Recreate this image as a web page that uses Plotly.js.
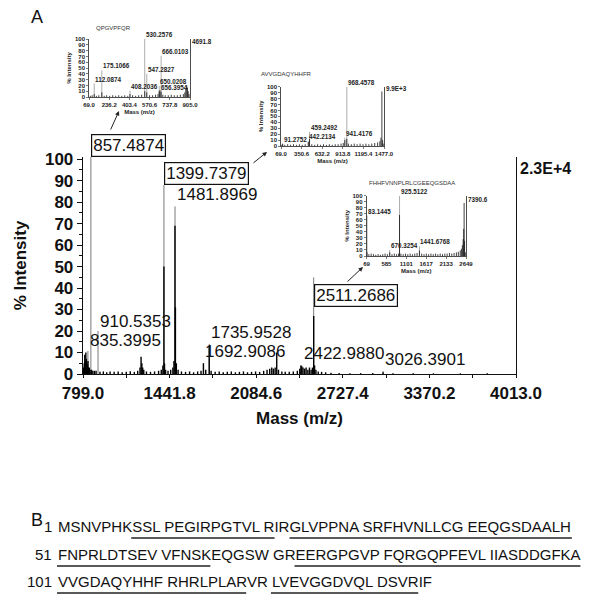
<!DOCTYPE html>
<html><head><meta charset="utf-8">
<script src="https://cdn.plot.ly/plotly-3.0.1.min.js"></script>
<style>html,body{margin:0;padding:0;background:#fff}#chart{width:600px;height:610px}</style>
</head><body><div id="chart"></div>
<script>
// ===== Panel A : main MALDI spectrum =====
const mainTickVals = [799.0, 1441.8, 2084.6, 2727.4, 3370.2, 4013.0];
const mainTickText = ["799.0", "1441.8", "2084.6", "2727.4", "3370.2", "4013.0"];
const mainMass = [
  803, 808, 812, 816, 820, 824, 828, 832, 836, 840,
  846, 852, 862, 872, 884, 896, 925, 950, 975, 1000,
  1030, 1060, 1090, 1120, 1150, 1180, 1205, 1222, 1230, 1236,
  1242, 1250, 1270, 1300, 1330, 1360, 1380, 1392, 1399.7, 1404,
  1412, 1430, 1450, 1466, 1474, 1481.9, 1485, 1492, 1505, 1530,
  1560, 1590, 1620, 1650, 1675, 1692.9, 1710, 1735.9, 1750, 1780,
  1810, 1840, 1870, 1900, 1930, 1960, 1990, 2020, 2050, 2080,
  2110, 2140, 2165, 2185, 2200, 2212, 2225, 2237, 2250, 2275,
  2300, 2330, 2360, 2390, 2408, 2416, 2423, 2432, 2444, 2455,
  2468, 2480, 2492, 2502, 2511.3, 2518, 2528, 2545, 2570, 2600,
  2640, 2700, 2780, 2860, 2950, 3026.4, 3100, 3250, 3400, 3600,
  3800];
const mainInt = [
  3, 5, 9, 6, 10, 7, 5, 4, 6, 3,
  3, 2, 2, 1.5, 1.5, 1.5, 1, 1.2, 0.8, 1.2,
  1, 1.2, 0.8, 1, 1.3, 1, 1.5, 3, 8, 5,
  3, 2, 1.2, 1, 1.2, 1.5, 2, 4, 50, 5,
  2, 1.5, 2, 3, 6, 69, 31, 5, 2, 1.2,
  1, 1.2, 0.8, 1.2, 1.5, 5, 2, 13, 1.5, 1,
  1.2, 0.8, 1, 1.2, 0.8, 1, 1.2, 0.8, 1, 1.2,
  1, 1.5, 2, 2.5, 3, 2.5, 3, 10, 2, 1.2,
  1, 1, 1.2, 1.5, 2.5, 4, 3.5, 3, 2.5, 3,
  2, 3, 2, 3, 27, 4, 2, 1.2, 1, 0.8,
  0.6, 0.5, 0.4, 0.4, 0.5, 0.8, 0.4, 0.3, 0.3, 0.3,
  0.3];
const mainPeakMass = [835.3995, 857.4874, 910.5353, 1399.7379, 1481.8969, 1692.9086, 1735.9528, 2422.9880, 2511.2686, 3026.3901];
const mainPeakInt  = [10.7, 101, 20, 88, 78, 5, 14, 4, 45, 1.4];
const mainLabelY   = [10.2, 101, 19, 88, 78, 5, 14, 4, 31, 1.4];
const mainBoxed    = [false, true, false, true, false, false, false, false, true, false];
const mainMaxLabel = "2.3E+4";

// ===== Inset 1 : QPGVPFQR =====
const ins1Title = "QPGVPFQR";
const ins1TickVals = [69.0, 236.2, 403.4, 570.6, 737.8, 905.0];
const ins1Mass = [80, 95, 112.1, 130, 150, 175.1, 195, 215, 240, 265, 290, 315, 340, 365, 390,
  408.2, 430, 455, 480, 505, 530.3, 547.3, 570, 595, 620, 640, 650, 656.4, 666, 680,
  700, 725, 750, 775, 800, 825, 850, 862, 870, 878, 884, 890, 897];
const ins1Int = [2, 3, 5, 2, 3, 8, 2, 3, 2, 3, 2, 3, 2, 3, 2,
  5, 3, 2, 3, 4, 10, 8, 3, 3, 4, 5, 10, 12, 9, 4,
  3, 3, 4, 3, 3, 4, 5, 8, 14, 20, 16, 10, 5];
const ins1PeakMass = [112.0874, 175.1066, 408.2036, 530.2576, 547.2827, 650.0208, 656.3954, 666.0103];
const ins1PeakInt  = [23, 46, 11, 100, 40, 19, 8, 71];
const ins1Max = "4691.8";

// ===== Inset 2 : AVVGDAQYHHFR =====
const ins2Title = "AVVGDAQYHHFR";
const ins2TickVals = [69.0, 350.6, 632.2, 913.8, 1195.4, 1477.0];
const ins2Mass = [80, 91.3, 120, 160, 200, 240, 280, 320, 360, 400,
  442.2, 459.2, 490, 530, 570, 610, 650, 690, 730, 770,
  810, 850, 890, 920, 941.4, 968.5, 990, 1030, 1070, 1110,
  1150, 1190, 1230, 1270, 1310, 1350, 1390, 1420, 1435, 1448, 1458, 1466];
const ins2Int = [2, 4, 2, 3, 2, 3, 2, 3, 2, 3,
  7, 12, 3, 2, 3, 2, 3, 2, 3, 2,
  3, 3, 4, 5, 10, 12, 4, 3, 4, 3,
  4, 3, 4, 3, 4, 5, 6, 8, 14, 92, 10, 4];
const ins2PeakMass = [91.2752, 442.2134, 459.2492, 941.4176, 968.4578];
const ins2PeakInt  = [3, 8, 24, 14, 100];
const ins2Max = "9.9E+3";

// ===== Inset 3 : FHHFVNNPLRLCGEEQGSDAA =====
const ins3Title = "FHHFVNNPLRLCGEEQGSDAA";
const ins3TickVals = [69, 585, 1101, 1617, 2133, 2649];
const ins3Mass = [83.1, 130, 190, 250, 310, 370, 430, 490, 550, 610,
  670.3, 730, 790, 850, 900, 925.5, 960, 1020, 1080, 1140,
  1200, 1260, 1320, 1380, 1441.7, 1500, 1560, 1620, 1680, 1740,
  1800, 1860, 1920, 1980, 2040, 2100, 2160, 2220, 2280, 2340,
  2400, 2450, 2500, 2530, 2555, 2575, 2590, 2600, 2612, 2630];
const ins3Int = [6, 3, 4, 3, 2, 3, 2, 3, 4, 3,
  6, 3, 4, 3, 4, 68, 4, 3, 4, 3,
  4, 3, 4, 5, 9, 4, 3, 4, 3, 4,
  3, 4, 3, 4, 3, 4, 4, 5, 4, 5,
  6, 7, 9, 12, 18, 28, 45, 88, 25, 6];
const ins3PeakMass = [83.1445, 670.3254, 925.5122, 1441.6768];
const ins3PeakInt  = [67, 10, 100, 16];
const ins3Max = "7390.6";

// ===== Panel B : protein sequence =====
const seqStart = [1, 51, 101];
const seqLines = [
  "MSNVPHKSSL PEGIRPGTVL RIRGLVPPNA SRFHVNLLCG EEQGSDAALH",
  "FNPRLDTSEV VFNSKEQGSW GREERGPGVP FQRGQPFEVL IIASDDGFKA",
  "VVGDAQYHHF RHRLPLARVR LVEVGGDVQL DSVRIF"];
const peptideStart = [8, 24, 51, 73, 101, 121];
const peptideEnd   = [21, 50, 65, 100, 118, 134];

// ---------- helpers ----------
const W = 600, H = 610;
const FONT = "Liberation Sans, Arial, sans-serif";
const px = v => v / W;
const py = v => 1 - v / H;
function sticks(m, h) {
  const x = [], y = [];
  m.forEach((v, i) => { x.push(v, v, null); y.push(0, h[i], null); });
  return {x, y};
}
const traces = [];
function addSticks(m, h, xa, ya, color, width) {
  const s = sticks(m, h);
  traces.push({type: 'scatter', mode: 'lines', x: s.x, y: s.y, xaxis: xa, yaxis: ya,
    line: {color: color, width: width}, hoverinfo: 'skip', showlegend: false, cliponaxis: false});
}
addSticks(mainPeakMass, mainPeakInt, 'x', 'y', '#7a7a7a', 1);
addSticks(mainMass, mainInt, 'x', 'y', '#000', 1.4);
addSticks(ins1PeakMass, ins1PeakInt, 'x2', 'y2', '#8a8a8a', 0.7);
addSticks(ins1Mass, ins1Int, 'x2', 'y2', '#111', 0.8);
addSticks(ins2PeakMass, ins2PeakInt, 'x3', 'y3', '#8a8a8a', 0.7);
addSticks(ins2Mass, ins2Int, 'x3', 'y3', '#111', 0.8);
addSticks(ins3PeakMass, ins3PeakInt, 'x4', 'y4', '#8a8a8a', 0.7);
addSticks(ins3Mass, ins3Int, 'x4', 'y4', '#111', 0.8);

const yTicks = [0, 10, 20, 30, 40, 50, 60, 70, 80, 90, 100];
const mids = v => v.slice(0, -1).map((a, i) => (a + v[i + 1]) / 2);

function insetAxes(domX, domY, tickVals, range, yanchorName, xanchorName) {
  const tf = {family: FONT, size: 6, color: '#222', weight: 700};
  const xa = {domain: domX, range: range, anchor: yanchorName, showline: true, linecolor: '#222', linewidth: 0.8,
    ticks: 'outside', ticklen: 2, tickwidth: 0.6, tickcolor: '#222', tickmode: 'array', tickvals: tickVals,
    ticktext: tickVals.map(v => range[1] > 2000 ? String(v) : v.toFixed(1)), tickangle: 0,
    tickfont: tf, showgrid: false, zeroline: false, automargin: false,
    title: {text: 'Mass (m/z)', font: {family: FONT, size: 6, color: '#222', weight: 700}, standoff: 2}};
  const ya = {domain: domY, range: [0, 100], anchor: xanchorName, showline: true, mirror: true, linecolor: '#222', linewidth: 0.8,
    ticks: 'outside', ticklen: 2, tickwidth: 0.6, tickcolor: '#222', tickmode: 'array', tickvals: yTicks,
    tickfont: tf, showgrid: false, zeroline: false, automargin: false,
    title: {text: '% Intensity', font: {family: FONT, size: 6, color: '#222', weight: 700}, standoff: 2}};
  return [xa, ya];
}
const [xa2, ya2] = insetAxes([px(89), px(190)], [py(97), py(39)], ins1TickVals, [69, 905], 'y2', 'x2');
const [xa3, ya3] = insetAxes([px(281), px(384)], [py(146), py(86.7)], ins2TickVals, [69, 1477], 'y3', 'x3');
const [xa4, ya4] = insetAxes([px(366.5), px(466)], [py(256), py(195.7)], ins3TickVals, [69, 2649], 'y4', 'x4');

const annotations = [];
// main peak labels
mainPeakMass.forEach((m, i) => {
  const a = {xref: 'x', yref: 'y', x: m, y: mainLabelY[i], xanchor: 'left', yanchor: 'bottom',
    text: m.toFixed(4), showarrow: false, font: {family: FONT, size: 17, color: '#111'}, borderpad: 1};
  if (mainBoxed[i]) { a.bordercolor = '#111'; a.borderwidth = 1.2; }
  annotations.push(a);
});
annotations.push({xref: 'x', yref: 'y', x: 4013, y: 95.5, xanchor: 'left', yanchor: 'middle', xshift: 2,
  text: mainMaxLabel, showarrow: false, font: {family: FONT, size: 16, color: '#111', weight: 700}});
// inset labels
function insetLabels(mass, ints, xr, yr, maxLabel, xmax, maxY) {
  mass.forEach((m, i) => annotations.push({xref: xr, yref: yr, x: m, y: ints[i], xanchor: 'left', yanchor: 'bottom',
    text: m.toFixed(4), showarrow: false, borderpad: 0, font: {family: FONT, size: 6.3, color: '#222', weight: 700}}));
  annotations.push({xref: xr, yref: yr, x: xmax, y: maxY, xanchor: 'left', yanchor: 'middle', xshift: 1,
    text: maxLabel, showarrow: false, borderpad: 0, font: {family: FONT, size: 6.3, color: '#222', weight: 700}});
}
insetLabels(ins1PeakMass, ins1PeakInt, 'x2', 'y2', ins1Max, 905, 95);
insetLabels(ins2PeakMass, ins2PeakInt, 'x3', 'y3', ins2Max, 1477, 97);
insetLabels(ins3PeakMass, ins3PeakInt, 'x4', 'y4', ins3Max, 2649, 93);
// inset titles
[[ins1Title, 95, 28], [ins2Title, 260, 74], [ins3Title, 368, 183]].forEach(t => annotations.push({
  xref: 'paper', yref: 'paper', x: px(t[1]), y: py(t[2]), xanchor: 'left', yanchor: 'middle',
  text: t[0], showarrow: false, borderpad: 0, font: {family: FONT, size: 6, color: '#333'}}));
// arrows
[[119, 111, -9, 20], [267, 152, -15, 12], [363, 267, -17, 16]].forEach(a => annotations.push({
  xref: 'paper', yref: 'paper', x: px(a[0]), y: py(a[1]), ax: a[2], ay: a[3], text: '', showarrow: true,
  arrowhead: 2, arrowsize: 0.9, arrowwidth: 1, arrowcolor: '#222'}));
// panel letters
annotations.push({xref: 'paper', yref: 'paper', x: px(29), y: py(17), xanchor: 'left', yanchor: 'middle',
  text: 'A', showarrow: false, font: {family: FONT, size: 18, color: '#111'}});
annotations.push({xref: 'paper', yref: 'paper', x: px(29), y: py(520), xanchor: 'left', yanchor: 'middle',
  text: 'B', showarrow: false, font: {family: FONT, size: 18, color: '#111'}});

// sequence lines and underlines
const SEQ_SIZE = 15, seqX = 57, lineY = [526, 554, 581], ulGap = 12;
const ctx = document.createElement('canvas').getContext('2d');
ctx.font = SEQ_SIZE + "px 'Liberation Sans'";
const tw = s => ctx.measureText(s).width;
const shapes = [];
seqLines.forEach((ln, i) => {
  annotations.push({xref: 'paper', yref: 'paper', x: px(seqX - 4), y: py(lineY[i]), xanchor: 'right', yanchor: 'middle',
    text: String(seqStart[i]), showarrow: false, borderpad: 0, font: {family: FONT, size: SEQ_SIZE, color: '#111'}});
  annotations.push({xref: 'paper', yref: 'paper', x: px(seqX), y: py(lineY[i]), xanchor: 'left', yanchor: 'middle',
    text: ln, showarrow: false, borderpad: 0, font: {family: FONT, size: SEQ_SIZE, color: '#111'}});
});
const charIdx = (r, s) => { const k = r - s; return k + Math.floor(k / 10); };
peptideStart.forEach((ps, j) => {
  const li = seqStart.findIndex((s, i) => ps >= s && (i === seqStart.length - 1 || ps < seqStart[i + 1]));
  const ln = seqLines[li], s = seqStart[li];
  const x0 = seqX + tw(ln.slice(0, charIdx(ps, s)));
  const x1 = seqX + tw(ln.slice(0, charIdx(peptideEnd[j], s) + 1));
  const yy = lineY[li] + ulGap;
  shapes.push({type: 'line', xref: 'paper', yref: 'paper', x0: px(x0), x1: px(x1), y0: py(yy), y1: py(yy),
    line: {color: '#222', width: 1.6}});
});

const layout = {
  width: W, height: H, autosize: false, margin: {l: 0, r: 0, t: 0, b: 0},
  paper_bgcolor: '#fff', plot_bgcolor: 'rgba(0,0,0,0)', showlegend: false, hovermode: false,
  font: {family: FONT, color: '#111'},
  xaxis: {domain: [px(83), px(516)], range: [799, 4013], anchor: 'y', showline: true, linecolor: '#111', linewidth: 1.3,
    ticks: 'outside', ticklen: 3, tickwidth: 1, tickcolor: '#111', tickmode: 'array', tickvals: mainTickVals, ticktext: mainTickText,
    ticklabelstandoff: 0,
    minor: {tickmode: 'array', tickvals: mids(mainTickVals), ticks: 'outside', ticklen: 3, tickcolor: '#111'},
    tickfont: {family: FONT, size: 17, color: '#111', weight: 700}, showgrid: false, zeroline: false, tickangle: 0,
    title: {text: 'Mass (m/z)', font: {family: FONT, size: 17, color: '#111', weight: 700}, standoff: 10}},
  yaxis: {domain: [py(374), py(157)], range: [0, 101], anchor: 'x', showline: true, mirror: true, linecolor: '#111', linewidth: 1.3,
    ticks: 'outside', ticklen: 5, tickwidth: 1, tickcolor: '#111', tickmode: 'array', tickvals: yTicks,
    minor: {dtick: 5, ticks: 'outside', ticklen: 3, tickcolor: '#111'},
    tickfont: {family: FONT, size: 17, color: '#111', weight: 700}, showgrid: false, zeroline: false,
    title: {text: '% Intensity', font: {family: FONT, size: 17, color: '#111', weight: 700}, standoff: 14}},
  xaxis2: xa2, yaxis2: ya2, xaxis3: xa3, yaxis3: ya3, xaxis4: xa4, yaxis4: ya4,
  annotations: annotations, shapes: shapes
};
Plotly.newPlot('chart', traces, layout, {staticPlot: true, displayModeBar: false});
</script></body></html>
